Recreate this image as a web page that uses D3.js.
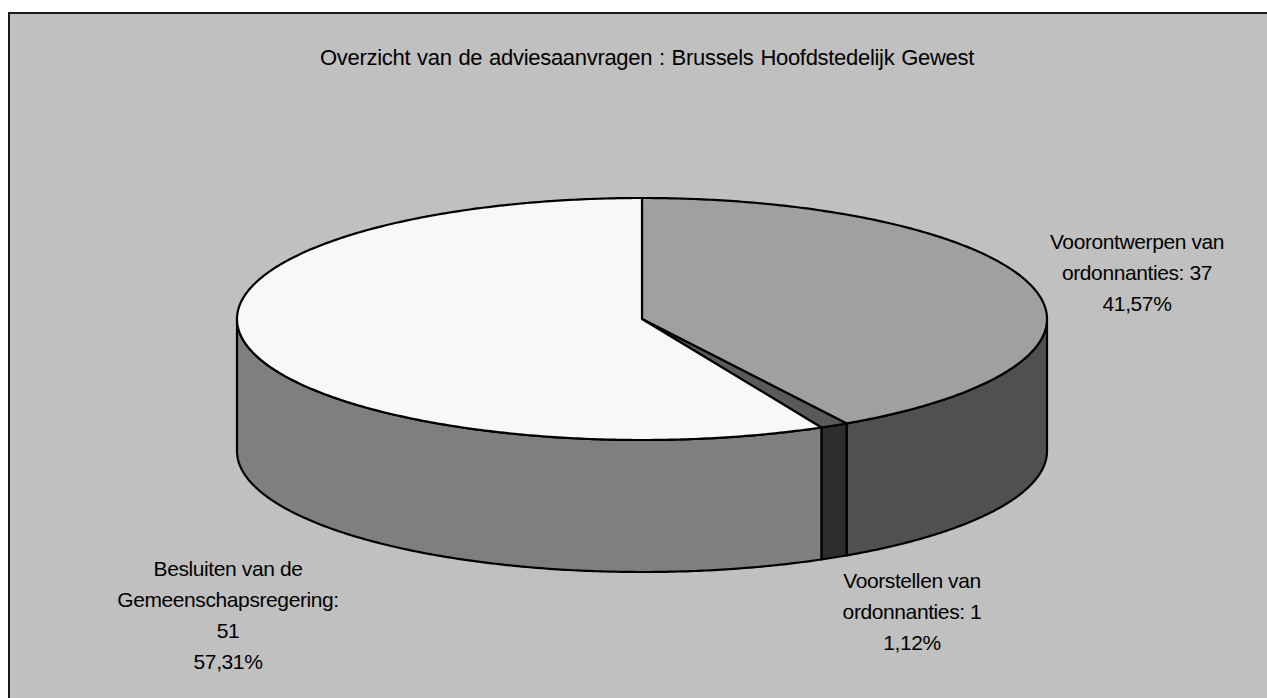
<!DOCTYPE html>
<html>
<head>
<meta charset="utf-8">
<style>
    body { margin: 0; background: #fff; }
    svg { display: block; }
    text {
        font-family: "Liberation Sans", Arial, sans-serif;
        font-size: 21px;
        fill: #000;
        letter-spacing: -0.4px;
    }
    .title {
        font-size: 22px;
        letter-spacing: -0.3px;
        word-spacing: 1px;
    }
</style>
</head>
<body>
<svg width="1267" height="698"></svg>

<script src="https://cdn.jsdelivr.net/npm/d3@7"></script>
<script>
// data
let categories = ["Voorontwerpen van ordonnanties", "Voorstellen van ordonnanties", "Besluiten van de Gemeenschapsregering"];
let values = [37, 1, 51];
let percentLabels = ["41,57%", "1,12%", "57,31%"];
let labelLines = [
    ["Voorontwerpen van", "ordonnanties: 37", "41,57%"],
    ["Voorstellen van", "ordonnanties: 1", "1,12%"],
    ["Besluiten van de", "Gemeenschapsregering:", "51", "57,31%"]
];
let title = "Overzicht van de adviesaanvragen : Brussels Hoofdstedelijk Gewest";

let topColors = ["#a0a0a0", "#5a5a5a", "#f8f8f8"];
let sideColors = ["#505050", "#2d2d2d", "#7f7f7f"];

let svg = d3.select("svg");

// chart area frame
svg.append("rect")
    .attr("x", 9).attr("y", 13)
    .attr("width", 1300).attr("height", 720)
    .attr("fill", "#c0c0c0")
    .attr("stroke", "#1a1a1a")
    .attr("stroke-width", 2);

svg.append("text")
    .attr("class", "title")
    .attr("x", 647).attr("y", 65)
    .attr("text-anchor", "middle")
    .text(title);

// pie geometry (ellipse for the tilted disc)
let cx = 642, cy = 319, rx = 405, ry = 121, depth = 132;

let pie = d3.pie().sort(null).startAngle(0).endAngle(2 * Math.PI);
let arcs = pie(values);

let px = a => cx + rx * Math.sin(a);
let py = a => cy - ry * Math.cos(a);

function edgePoints(a0, a1) {
    let n = Math.max(2, Math.ceil((a1 - a0) / 0.01));
    return d3.range(n + 1).map(i => {
        let a = a0 + (a1 - a0) * i / n;
        return [px(a), py(a)];
    });
}

function topPath(d) {
    let pts = edgePoints(d.startAngle, d.endAngle);
    return "M" + cx + "," + cy + "L" + pts.map(p => p.join(",")).join("L") + "Z";
}

// only the front half (90deg..270deg) shows a side wall
function sidePath(d) {
    let a0 = Math.max(d.startAngle, Math.PI / 2);
    let a1 = Math.min(d.endAngle, 3 * Math.PI / 2);
    if (a1 <= a0) return null;
    let top = edgePoints(a0, a1);
    let bottom = top.map(p => [p[0], p[1] + depth]).reverse();
    return "M" + top.concat(bottom).map(p => p.join(",")).join("L") + "Z";
}

let g = svg.append("g");

g.selectAll("path.side")
    .data(arcs.filter(d => sidePath(d)))
    .join("path")
    .attr("class", "side")
    .attr("d", sidePath)
    .attr("fill", d => sideColors[d.index])
    .attr("stroke", "#000")
    .attr("stroke-width", 2.2)
    .attr("stroke-linejoin", "round");

g.selectAll("path.top")
    .data(arcs)
    .join("path")
    .attr("class", "top")
    .attr("d", topPath)
    .attr("fill", d => topColors[d.index])
    .attr("stroke", "#000")
    .attr("stroke-width", 2.2)
    .attr("stroke-linejoin", "round");

// data labels, placed like the excel ones
let labelAnchors = [[1137, 249], [912, 588], [228, 576]];
let lineGap = 31;

labelLines.forEach((lines, i) => {
    let t = svg.append("text")
        .attr("text-anchor", "middle")
        .attr("x", labelAnchors[i][0])
        .attr("y", labelAnchors[i][1]);
    t.selectAll("tspan")
        .data(lines)
        .join("tspan")
        .attr("x", labelAnchors[i][0])
        .attr("dy", (d, j) => j === 0 ? 0 : lineGap)
        .text(d => d);
});
</script>
</body>
</html>
